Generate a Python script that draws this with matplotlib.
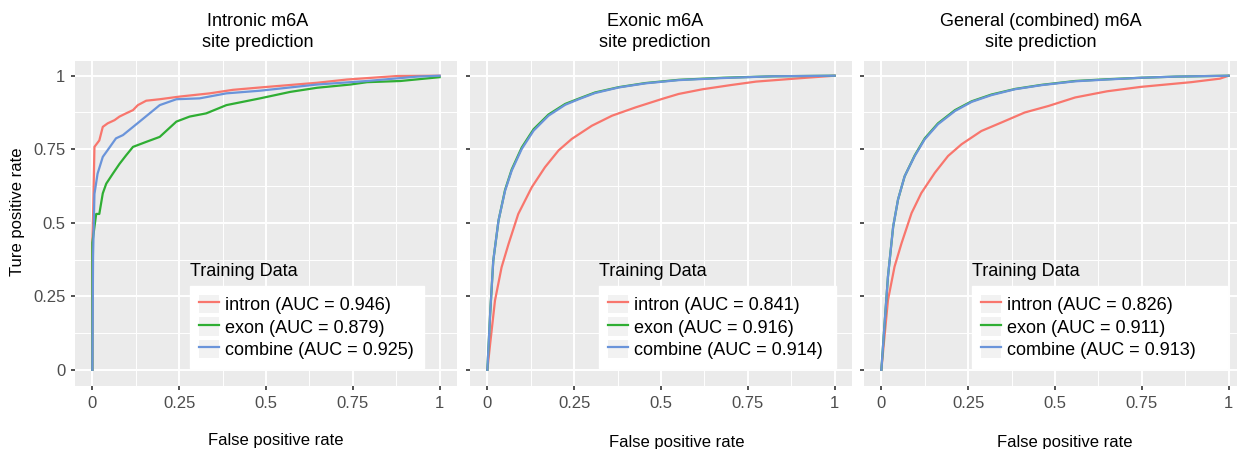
import matplotlib.pyplot as plt
from matplotlib.patches import Patch
from matplotlib.legend_handler import HandlerTuple

plt.rcParams['font.family'] = ['Liberation Sans', 'DejaVu Sans']

# panel titles and legend entries
titles = ['Intronic m6A\nsite prediction',
          'Exonic m6A\nsite prediction',
          'General (combined) m6A\nsite prediction']
series = ['intron', 'exon', 'combine']
colors = ['#F8766D', '#2FAE33', '#6A94DA']
auc = [[0.946, 0.879, 0.925],
       [0.841, 0.916, 0.914],
       [0.826, 0.911, 0.913]]

# ROC curves (fpr, tpr)
p1_intron_fpr = [0, 0, 0.002, 0.006, 0.02, 0.03, 0.044, 0.064, 0.078, 0.097, 0.117, 0.131, 0.155, 0.194, 0.251, 0.338, 0.405, 0.483, 0.647, 0.733, 0.878, 1]
p1_intron_tpr = [0, 0.44, 0.52, 0.758, 0.78, 0.826, 0.838, 0.849, 0.861, 0.872, 0.883, 0.9, 0.915, 0.92, 0.929, 0.94, 0.952, 0.96, 0.976, 0.987, 0.999, 1]
p1_exon_fpr = [0, 0, 0.011, 0.02, 0.03, 0.04, 0.059, 0.078, 0.097, 0.117, 0.155, 0.194, 0.242, 0.28, 0.328, 0.386, 0.483, 0.57, 0.647, 0.743, 0.791, 0.887, 1]
p1_exon_tpr = [0, 0.432, 0.53, 0.53, 0.6, 0.633, 0.667, 0.70, 0.729, 0.758, 0.775, 0.792, 0.844, 0.861, 0.872, 0.9, 0.923, 0.945, 0.959, 0.97, 0.978, 0.982, 0.995]
p1_comb_fpr = [0, 0.002, 0.006, 0.015, 0.03, 0.044, 0.068, 0.088, 0.112, 0.136, 0.165, 0.194, 0.242, 0.309, 0.386, 0.483, 0.647, 0.791, 0.936, 1]
p1_comb_tpr = [0, 0.385, 0.598, 0.667, 0.724, 0.747, 0.787, 0.798, 0.821, 0.844, 0.872, 0.9, 0.92, 0.923, 0.94, 0.949, 0.97, 0.982, 0.997, 1]

p2_intron_fpr = [0, 0.008, 0.022, 0.041, 0.061, 0.089, 0.128, 0.166, 0.205, 0.243, 0.301, 0.359, 0.426, 0.503, 0.551, 0.62, 0.70, 0.774, 0.918, 1]
p2_intron_tpr = [0, 0.088, 0.236, 0.349, 0.428, 0.53, 0.621, 0.689, 0.746, 0.785, 0.83, 0.864, 0.892, 0.921, 0.938, 0.954, 0.968, 0.98, 0.993, 1]
p2_exon_fpr = [0, 0.008, 0.017, 0.032, 0.051, 0.07, 0.099, 0.133, 0.176, 0.224, 0.263, 0.31, 0.378, 0.455, 0.551, 0.677, 0.822, 1]
p2_exon_tpr = [0, 0.19, 0.371, 0.507, 0.612, 0.681, 0.756, 0.818, 0.868, 0.904, 0.922, 0.943, 0.961, 0.975, 0.986, 0.993, 0.998, 1]
p2_comb_fpr = [0, 0.008, 0.017, 0.032, 0.051, 0.07, 0.099, 0.133, 0.176, 0.224, 0.263, 0.31, 0.378, 0.455, 0.551, 0.677, 0.822, 1]
p2_comb_tpr = [0, 0.19, 0.371, 0.507, 0.609, 0.677, 0.751, 0.813, 0.864, 0.901, 0.92, 0.941, 0.96, 0.974, 0.985, 0.992, 0.998, 1]

p3_intron_fpr = [0, 0.008, 0.019, 0.038, 0.058, 0.087, 0.115, 0.154, 0.192, 0.231, 0.288, 0.346, 0.413, 0.481, 0.558, 0.65, 0.747, 0.892, 0.94, 0.975, 1]
p3_intron_tpr = [0, 0.1, 0.237, 0.351, 0.43, 0.533, 0.601, 0.67, 0.727, 0.767, 0.812, 0.841, 0.875, 0.897, 0.926, 0.947, 0.962, 0.978, 0.985, 0.99, 1]
p3_exon_fpr = [0, 0.01, 0.019, 0.034, 0.048, 0.067, 0.096, 0.125, 0.163, 0.212, 0.26, 0.317, 0.385, 0.462, 0.558, 0.65, 0.747, 0.85, 1]
p3_exon_tpr = [0, 0.169, 0.317, 0.487, 0.579, 0.658, 0.729, 0.787, 0.838, 0.883, 0.913, 0.936, 0.955, 0.969, 0.982, 0.988, 0.993, 0.997, 1]
p3_comb_fpr = [0, 0.01, 0.019, 0.034, 0.048, 0.067, 0.096, 0.125, 0.163, 0.212, 0.26, 0.317, 0.385, 0.462, 0.558, 0.65, 0.747, 0.85, 1]
p3_comb_tpr = [0, 0.169, 0.317, 0.487, 0.579, 0.658, 0.727, 0.784, 0.835, 0.88, 0.911, 0.934, 0.954, 0.968, 0.981, 0.987, 0.993, 0.997, 1]

curves = [
    [(p1_intron_fpr, p1_intron_tpr), (p1_exon_fpr, p1_exon_tpr), (p1_comb_fpr, p1_comb_tpr)],
    [(p2_intron_fpr, p2_intron_tpr), (p2_exon_fpr, p2_exon_tpr), (p2_comb_fpr, p2_comb_tpr)],
    [(p3_intron_fpr, p3_intron_tpr), (p3_exon_fpr, p3_exon_tpr), (p3_comb_fpr, p3_comb_tpr)],
]
ticks = [0, 0.25, 0.5, 0.75, 1]
tick_labels = ['0', '0.25', '0.5', '0.75', '1']

W, H = 1237, 449
fig = plt.figure(figsize=(W / 100, H / 100), dpi=100)

panel_left = [75, 470, 864]
panel_w, panel_top, panel_bot = 382, 61, 386
title_x = [258, 655, 1041]
xlabel_x = [276, 677, 1065]
xlabel_y = [440, 442, 442]
leg_x = [0.301, 0.338, 0.283]
leg_w = [0.613, 0.620, 0.667]

for i in range(3):
    ax = fig.add_axes([panel_left[i] / W, 1 - panel_bot / H,
                       panel_w / W, (panel_bot - panel_top) / H])
    ax.set_facecolor('#EBEBEB')
    for s in ax.spines.values():
        s.set_visible(False)
    ax.set_xlim(-0.05, 1.05)
    ax.set_ylim(-0.055, 1.05)
    ax.set_xticks(ticks)
    ax.set_yticks(ticks)
    ax.set_xticks([0.125, 0.375, 0.625, 0.875], minor=True)
    ax.set_yticks([0.125, 0.375, 0.625, 0.875], minor=True)
    ax.set_xticklabels(tick_labels)
    if i == 0:
        ax.set_yticklabels(tick_labels)
    else:
        ax.set_yticklabels([])
    ax.grid(which='major', color='white', lw=1.4)
    ax.grid(which='minor', color='white', lw=0.7)
    ax.set_axisbelow(True)
    ax.tick_params(which='major', length=3, width=1.2, color='#333333',
                   labelcolor='#4D4D4D', labelsize=12, pad=4)
    ax.tick_params(which='minor', length=0)

    lines = []
    for k in range(3):
        fpr, tpr = curves[i][k]
        ln, = ax.plot(fpr, tpr, color=colors[k], lw=1.6)
        lines.append(ln)

    handles = [(Patch(facecolor='#F2F2F2', edgecolor='none'), ln) for ln in lines]
    labels = ['%s (AUC = %.3f)' % (series[k], auc[i][k]) for k in range(3)]
    leg = ax.legend(handles, labels, handler_map={tuple: HandlerTuple(ndivide=1)},
                    loc='lower left', bbox_to_anchor=(leg_x[i], 0.055, leg_w[i], 0.25),
                    mode='expand', borderaxespad=0, fontsize=13, frameon=True,
                    fancybox=False, framealpha=1, edgecolor='white', facecolor='white',
                    borderpad=0.5, handlelength=1.1, handleheight=1.22,
                    handletextpad=0.35, labelspacing=0.17)
    ax.text(leg_x[i], 0.351, 'Training Data', transform=ax.transAxes,
            fontsize=13, ha='left', va='center')

    fig.text(title_x[i] / W, 1 - 32 / H, titles[i], ha='center', va='center',
             fontsize=13, linespacing=1.25)
    fig.text(xlabel_x[i] / W, 1 - xlabel_y[i] / H, 'False positive rate',
             ha='center', va='center', fontsize=12)

fig.text(18 / W, 1 - 212 / H, 'Ture positive rate', rotation=90,
         ha='center', va='center', fontsize=12)

fig.savefig('out.png', dpi=100)
